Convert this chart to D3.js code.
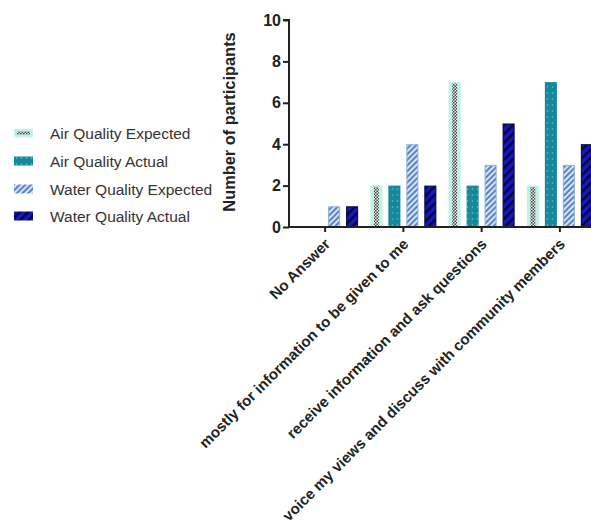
<!DOCTYPE html>
<html><head><meta charset="utf-8">
<script src="https://cdn.jsdelivr.net/npm/d3@7"></script>
<style>body{margin:0;background:#fff;}svg{display:block;font-family:"Liberation Sans",Arial,sans-serif;}</style>
</head><body>
<svg id="c" width="591" height="529"></svg>
<script>
const categories = ["No Answer","mostly for information to be given to me","receive information and ask questions","voice my views and discuss with community members"];
const seriesNames = ["Air Quality Expected","Air Quality Actual","Water Quality Expected","Water Quality Actual"];
const airExpected = [0,2,7,2];
const airActual = [0,2,2,7];
const waterExpected = [1,4,3,3];
const waterActual = [1,2,5,4];
const yTicks = [0,2,4,6,8,10];
const yLabel = "Number of participants";

const seriesData = [airExpected, airActual, waterExpected, waterActual];
const svg = d3.select("#c");
const defs = svg.append("defs");

// patterns
const p0 = defs.append("pattern").attr("id","chk").attr("patternUnits","userSpaceOnUse").attr("width",3).attr("height",3);
p0.append("rect").attr("width",3).attr("height",3).attr("fill","#e8e8e8");
p0.append("rect").attr("width",1.5).attr("height",1.5).attr("fill","#444");
p0.append("rect").attr("x",1.5).attr("y",1.5).attr("width",1.5).attr("height",1.5).attr("fill","#444");

const p1 = defs.append("pattern").attr("id","dots").attr("patternUnits","userSpaceOnUse").attr("width",5).attr("height",6);
p1.append("rect").attr("width",5).attr("height",6).attr("fill","#16889b");
p1.append("circle").attr("cx",2.5).attr("cy",3).attr("r",0.8).attr("fill","#6fc3cf");

const p2 = defs.append("pattern").attr("id","lstripe").attr("patternUnits","userSpaceOnUse").attr("width",4).attr("height",4).attr("patternTransform","rotate(45)");
p2.append("rect").attr("width",4).attr("height",4).attr("fill","#d6e4f6");
p2.append("rect").attr("width",2).attr("height",4).attr("fill","#5b82c4");

const p3 = defs.append("pattern").attr("id","dstripe").attr("patternUnits","userSpaceOnUse").attr("width",6).attr("height",6).attr("patternTransform","rotate(45)");
p3.append("rect").attr("width",6).attr("height",6).attr("fill","#1616cc");
p3.append("rect").attr("width",2.5).attr("height",6).attr("fill","#0a0a30");

const x0 = 289;
const x = d3.scaleBand().domain(categories).range([286, 599]).paddingInner(0).paddingOuter(0);
const xs = d3.scaleBand().domain(seriesNames).range([-33, 33]).paddingInner(0.33);
const y = d3.scaleLinear().domain([0,10]).range([227,20]);

const bw = xs.bandwidth();
const g = svg.append("g");
seriesData.forEach((arr, si) => {
  const name = seriesNames[si];
  arr.forEach((v, ci) => {
    if (v <= 0) return;
    const cx = x(categories[ci]) + x.bandwidth()/2;
    const bx = cx + xs(name);
    const by = y(v), bh = y(0) - y(v);
    if (si === 0) {
      g.append("rect").attr("x",bx).attr("y",by).attr("width",bw).attr("height",bh).attr("fill","#bdf3e4");
      g.append("rect").attr("x",bx+bw*0.3).attr("y",by+1.5).attr("width",bw*0.4).attr("height",bh-1.5).attr("fill","url(#chk)");
    } else if (si === 1) {
      g.append("rect").attr("x",bx).attr("y",by).attr("width",bw).attr("height",bh).attr("fill","url(#dots)");
    } else if (si === 2) {
      g.append("rect").attr("x",bx+0.5).attr("y",by+0.5).attr("width",bw-1).attr("height",bh-0.5).attr("fill","url(#lstripe)").attr("stroke","#8fb0dd").attr("stroke-width",1);
    } else {
      g.append("rect").attr("x",bx+0.5).attr("y",by+0.5).attr("width",bw-1).attr("height",bh-0.5).attr("fill","url(#dstripe)").attr("stroke","#06063a").attr("stroke-width",1);
    }
  });
});

// y axis
const yAxis = d3.axisLeft(y).tickValues(yTicks).tickSize(6).tickPadding(2).tickFormat(d3.format("d"));
const ya = svg.append("g").attr("transform",`translate(${x0},0)`).call(yAxis);
ya.select(".domain").attr("stroke","#222").attr("stroke-width",2).attr("d","M-6,20H0V227");
ya.selectAll(".tick line").attr("stroke","#222").attr("stroke-width",2);
ya.selectAll(".tick text").attr("font-size",16).attr("font-weight","bold").attr("fill","#222").attr("font-family","Liberation Sans, Arial, sans-serif");

// x axis
const xAxis = d3.axisBottom(x).tickSize(5).tickFormat("");
const xa = svg.append("g").attr("transform",`translate(0,227)`).call(xAxis);
xa.select(".domain").attr("stroke","#222").attr("stroke-width",2).attr("d",`M${x0},0H600`);
xa.selectAll(".tick line").attr("stroke","#222").attr("stroke-width",2);

// x labels
categories.forEach(c => {
  const tx = x(c) + x.bandwidth()/2 + 6, ty = 245;
  svg.append("text").attr("transform",`translate(${tx},${ty}) rotate(-45)`)
    .attr("text-anchor","end").attr("font-size",15.1).attr("font-weight","bold").attr("fill","#222")
    .text(c);
});

// y label
svg.append("text").attr("transform","translate(234.5,122) rotate(-90)").attr("text-anchor","middle")
  .attr("font-size",16.4).attr("font-weight","bold").attr("fill","#222").text(yLabel);

// legend
const ly = [133,161,189,216];
seriesNames.forEach((n,i) => {
  const lg = svg.append("g").attr("transform",`translate(14,${ly[i]})`);
  if (i === 0) {
    lg.append("rect").attr("x",0).attr("y",-4).attr("width",19).attr("height",8).attr("fill","#bdf3e4");
    lg.append("rect").attr("x",3).attr("y",-1.5).attr("width",13).attr("height",3).attr("fill","url(#chk)");
  } else if (i === 1) {
    lg.append("rect").attr("x",0).attr("y",-4.5).attr("width",19).attr("height",9).attr("fill","url(#dots)");
  } else if (i === 2) {
    lg.append("rect").attr("x",0).attr("y",-4.5).attr("width",19).attr("height",9).attr("fill","url(#lstripe)");
  } else {
    lg.append("rect").attr("x",0).attr("y",-4.5).attr("width",19).attr("height",9).attr("fill","url(#dstripe)");
  }
  lg.append("text").attr("x",36).attr("y",5.5).attr("font-size",15.5).attr("fill","#333").text(n);
});
</script>
</body></html>
